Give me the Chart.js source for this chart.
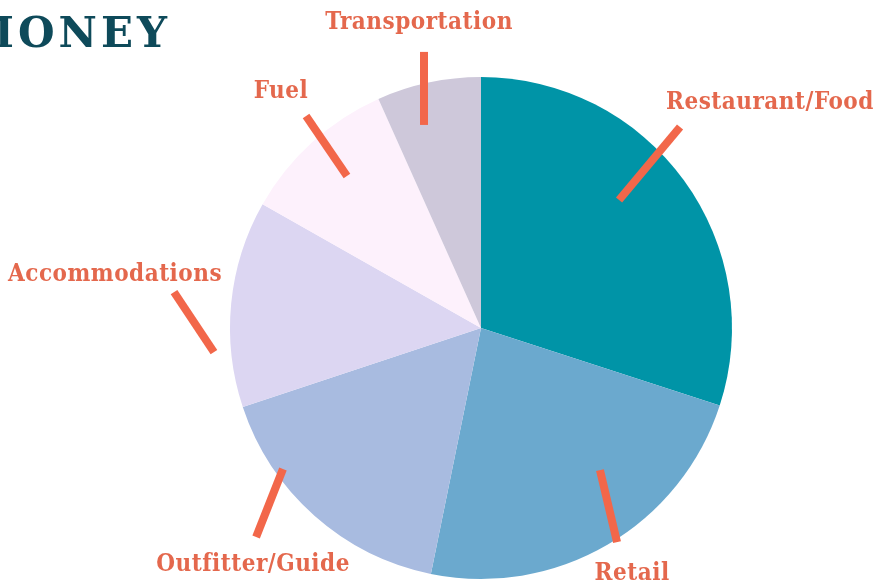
<!DOCTYPE html>
<html>
<head>
<meta charset="utf-8">
<script src="https://cdn.jsdelivr.net/npm/chart.js@4.4.1/dist/chart.umd.min.js"></script>
<style>
  html, body { margin: 0; padding: 0; background: #fff; }
  #wrap { position: relative; width: 875px; height: 584px; overflow: hidden; }
</style>
</head>
<body>
<div id="wrap"><canvas id="chart" width="875" height="584"></canvas></div>
<script>
// Spending categories, clockwise from 12 o'clock
const categories = ['Restaurant/Food', 'Retail', 'Outfitter/Guide', 'Accommodations', 'Fuel', 'Transportation'];
const shares = [30.0, 23.2, 16.7, 13.3, 10.1, 6.7];
const sliceColors = ['#0094a7', '#6ba9ce', '#a8bbe0', '#dcd6f2', '#fdf1fc', '#cec8da'];

// Callout geometry, in pie-radius units relative to the pie centre
// [lineStartX, lineStartY, lineEndX, lineEndY, labelX, labelY]
const calloutLayout = [
  [0.793, -0.801, 0.550, -0.510, 1.151, -0.896],
  [0.474, 0.566, 0.542, 0.853, 0.602, 0.978],
  [-0.789, 0.562, -0.896, 0.833, -0.908, 0.944],
  [-1.223, -0.143, -1.064, 0.096, -1.458, -0.211],
  [-0.697, -0.845, -0.534, -0.606, -0.797, -0.940],
  [-0.227, -1.100, -0.227, -0.809, -0.247, -1.217],
];

const ORANGE_LINE = '#f2674a';
const ORANGE_TEXT = '#e4684d';

// Draws the leader lines, category labels and the clipped heading.
const calloutPlugin = {
  id: 'callouts',
  afterDraw(chart) {
    const { ctx } = chart;
    const arc = chart.getDatasetMeta(0).data[0];
    if (!arc) return;
    const cx = arc.x;
    const cy = arc.y;
    const r = arc.outerRadius;

    ctx.save();
    calloutLayout.forEach((c, i) => {
      ctx.strokeStyle = ORANGE_LINE;
      ctx.lineWidth = 8;
      ctx.lineCap = 'butt';
      ctx.beginPath();
      ctx.moveTo(cx + c[0] * r, cy + c[1] * r);
      ctx.lineTo(cx + c[2] * r, cy + c[3] * r);
      ctx.stroke();

      ctx.fillStyle = ORANGE_TEXT;
      ctx.font = 'bold 24px "DejaVu Serif Condensed", "DejaVu Serif", serif';
      ctx.letterSpacing = '0.5px';
      ctx.textAlign = 'center';
      ctx.textBaseline = 'middle';
      ctx.fillText(categories[i], cx + c[4] * r, cy + c[5] * r);
    });

    // heading runs off the left edge in the source
    ctx.fillStyle = '#0e4a5a';
    ctx.font = 'bold 42px "DejaVu Serif", serif';
    ctx.letterSpacing = '4px';
    ctx.textAlign = 'right';
    ctx.textBaseline = 'alphabetic';
    ctx.fillText('MONEY', 171, 47);
    ctx.restore();
  },
};

new Chart(document.getElementById('chart').getContext('2d'), {
  type: 'pie',
  data: {
    labels: categories,
    datasets: [{
      data: shares,
      backgroundColor: sliceColors,
      borderWidth: 0,
    }],
  },
  options: {
    responsive: false,
    animation: false,
    layout: { padding: { left: 230, right: 143, top: 77, bottom: 5 } },
    plugins: {
      legend: { display: false },
      tooltip: { enabled: false },
    },
  },
  plugins: [calloutPlugin],
});
</script>
</body>
</html>
